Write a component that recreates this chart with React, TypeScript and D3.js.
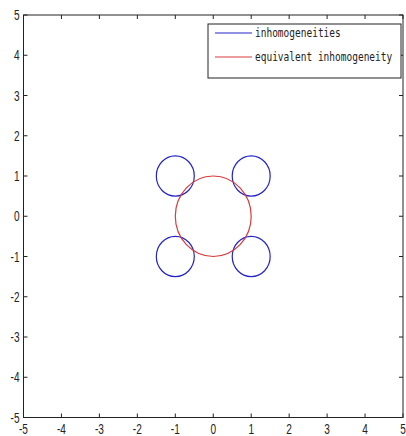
import React from "react";
import * as d3 from "d3";

// Axis ticks
const xTicks = [-5, -4, -3, -2, -1, 0, 1, 2, 3, 4, 5];
const yTicks = [-5, -4, -3, -2, -1, 0, 1, 2, 3, 4, 5];

// Small inclusions (blue)
const inclusionX = [-1, 1, -1, 1];
const inclusionY = [1, 1, -1, -1];
const inclusionR = [0.5, 0.5, 0.5, 0.5];

// Equivalent inclusion (red)
const equivalentX = [0];
const equivalentY = [0];
const equivalentR = [1];

const legendLabels = ["inhomogeneities", "equivalent inhomogeneity"];
const blue = "#2424c8";
const red = "#d83a3a";

const W = 406;
const H = 436;
const left = 23.5;
const right = 403;
const top = 15;
const bottom = 417.5;

export default function App() {
  const x = d3.scaleLinear().domain([-5, 5]).range([left, right]);
  const y = d3.scaleLinear().domain([-5, 5]).range([bottom, top]);
  const tickLen = 4;

  const circle = (cx: number, cy: number, r: number, color: string, key: string) => (
    <ellipse
      key={key}
      cx={x(cx)}
      cy={y(cy)}
      rx={x(r) - x(0)}
      ry={y(0) - y(r)}
      fill="none"
      stroke={color}
      strokeWidth={1.2}
    />
  );

  const labelFont = "'Liberation Sans', Arial, sans-serif";

  return (
    <svg
      width={W}
      height={H}
      style={{ position: "absolute", left: 0, top: 0, background: "#fff" }}
    >
      <rect x={0} y={0} width={W} height={H} fill="#fff" />
      {/* data */}
      {inclusionX.map((cx, i) => circle(cx, inclusionY[i], inclusionR[i], blue, `b${i}`))}
      {equivalentX.map((cx, i) => circle(cx, equivalentY[i], equivalentR[i], red, `r${i}`))}

      {/* box */}
      <rect
        x={left}
        y={top}
        width={right - left}
        height={bottom - top}
        fill="none"
        stroke="#222"
        strokeWidth={1}
      />

      {/* x ticks */}
      {xTicks.map((t) => (
        <g key={`xt${t}`}>
          <line x1={x(t)} x2={x(t)} y1={bottom} y2={bottom - tickLen} stroke="#222" />
          <line x1={x(t)} x2={x(t)} y1={top} y2={top + tickLen} stroke="#222" />
          <g transform={`translate(${x(t)},${434}) scale(0.72,1)`}>
            <text
              textAnchor="middle"
              fontFamily={labelFont}
              fontSize={14}
              fill="#222"
            >
              {t}
            </text>
          </g>
        </g>
      ))}

      {/* y ticks */}
      {yTicks.map((t) => (
        <g key={`yt${t}`}>
          <line x1={left} x2={left + tickLen} y1={y(t)} y2={y(t)} stroke="#222" />
          <line x1={right} x2={right - tickLen} y1={y(t)} y2={y(t)} stroke="#222" />
          <g transform={`translate(${19.5},${y(t) + 5}) scale(0.72,1)`}>
            <text
              textAnchor="end"
              fontFamily={labelFont}
              fontSize={14}
              fill="#222"
            >
              {t}
            </text>
          </g>
        </g>
      ))}

      {/* legend */}
      <g>
        <rect x={208} y={24} width={193} height={54} fill="#fff" stroke="#222" strokeWidth={1} />
        {legendLabels.map((lab, i) => {
          const ly = 33 + i * 24;
          return (
            <g key={lab}>
              <line x1={215} x2={252} y1={ly} y2={ly} stroke={i === 0 ? blue : red} strokeWidth={1.2} />
              <g transform={`translate(255,${ly + 4}) scale(1,1.25)`}>
                <text
                  fontFamily="'DejaVu Sans Mono', 'Liberation Mono', monospace"
                  fontSize={9.5}
                  fill="#222"
                >
                  {lab}
                </text>
              </g>
            </g>
          );
        })}
      </g>
    </svg>
  );
}
